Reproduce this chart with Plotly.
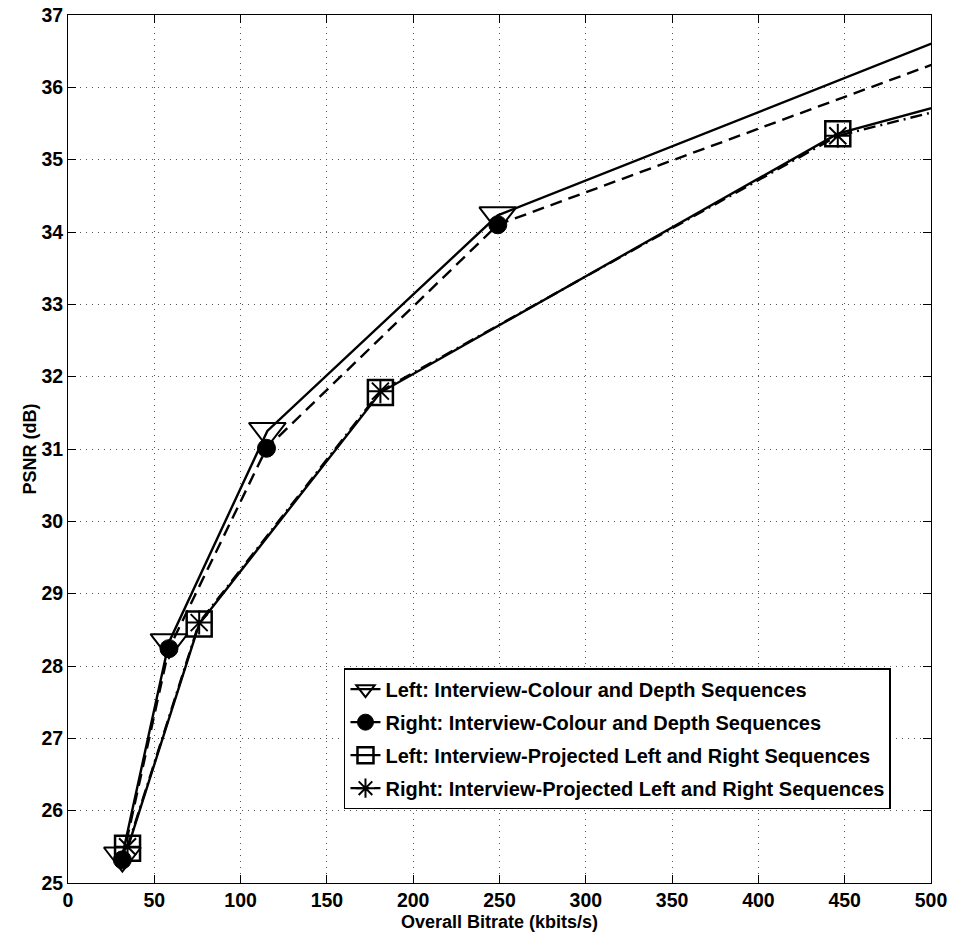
import plotly.graph_objects as go

# Data (last point of each series lies beyond the visible x-range and is clipped)
x_left_icd = [31.5, 58.5, 115.5, 249, 540]
y_left_icd = [25.38, 28.33, 31.25, 34.23, 36.98]

x_right_icd = [31.5, 58.5, 115, 249, 540]
y_right_icd = [25.32, 28.24, 31.01, 34.10, 36.66]

x_left_ip = [34.5, 76, 181, 446, 620]
y_left_ip = [25.48, 28.58, 31.78, 35.36, 36.49]

x_right_ip = [34.5, 76, 181, 446, 620]
y_right_ip = [25.50, 28.60, 31.80, 35.33, 36.36]

names = [
    "Left: Interview-Colour and Depth Sequences",
    "Right: Interview-Colour and Depth Sequences",
    "Left: Interview-Projected Left and Right Sequences",
    "Right: Interview-Projected Left and Right Sequences",
]

x_ticks = [0, 50, 100, 150, 200, 250, 300, 350, 400, 450, 500]
y_ticks = [25, 26, 27, 28, 29, 30, 31, 32, 33, 34, 35, 36, 37]

FONT = "Liberation Sans, Arial, sans-serif"

fig = go.Figure()

fig.add_trace(go.Scatter(
    x=x_left_icd, y=y_left_icd, name=names[0], mode="lines+markers",
    legendgroup="a",
    line=dict(color="black", width=2.4, dash="solid"),
    marker=dict(symbol="triangle-down-open", size=32, color="black",
                line=dict(color="black", width=2)),
))
fig.add_trace(go.Scatter(
    x=x_right_icd, y=y_right_icd, name=names[1], mode="lines+markers",
    legendgroup="b",
    line=dict(color="black", width=2.4, dash="12px,7px"),
    marker=dict(symbol="circle", size=18, color="black",
                line=dict(color="black", width=1)),
))
fig.add_trace(go.Scatter(
    x=x_left_ip, y=y_left_ip, name=names[2], mode="lines+markers",
    legendgroup="c",
    line=dict(color="black", width=2.4, dash="solid"),
    marker=dict(symbol="square-open", size=25, color="black",
                line=dict(color="black", width=2.5)),
))
fig.add_trace(go.Scatter(
    x=x_right_ip, y=y_right_ip, name=names[3], mode="lines+markers",
    legendgroup="d",
    line=dict(color="black", width=2.4, dash="12px,5px,2px,5px"),
    marker=dict(symbol="asterisk-open", size=20, color="black",
                line=dict(color="black", width=2)),
))

axis_common = dict(
    showline=True, linecolor="black", linewidth=1, mirror="ticks",
    ticks="inside", ticklen=8, tickwidth=1, tickcolor="black",
    showgrid=True, gridcolor="#555555", gridwidth=1, griddash="1px,5px",
    zeroline=False, automargin=False, ticklabeloverflow="allow",
    tickfont=dict(family=FONT, size=19.5, color="black", weight="bold"),
)

fig.update_xaxes(
    range=[0, 500], tickvals=x_ticks, ticktext=[str(v) for v in x_ticks],
    title=dict(text="Overall Bitrate (kbits/s)", standoff=4,
               font=dict(family=FONT, size=18, color="black", weight="bold")),
    **axis_common,
)
fig.update_yaxes(
    range=[25, 37], tickvals=y_ticks, ticktext=[str(v) for v in y_ticks],
    title=dict(text="PSNR (dB)", standoff=0,
               font=dict(family=FONT, size=18, color="black", weight="bold")),
    **axis_common,
)

fig.update_layout(
    width=953, height=940,
    margin=dict(l=68, r=22, t=15, b=57, autoexpand=False),
    paper_bgcolor="white", plot_bgcolor="white",
    showlegend=True,
    legend=dict(
        x=0.3198, y=0.2475, xanchor="left", yanchor="top",
        bgcolor="white", bordercolor="black", borderwidth=1.5,
        font=dict(family=FONT, size=20, color="black", weight="bold"),
        tracegroupgap=4,
    ),
)

# Remove the default page margin so the figure starts at the window's corner.
fig.write_html(
    "out.html",
    config={"displayModeBar": False},
    post_script="document.body.style.margin='0px';document.body.style.overflow='hidden';",
)
